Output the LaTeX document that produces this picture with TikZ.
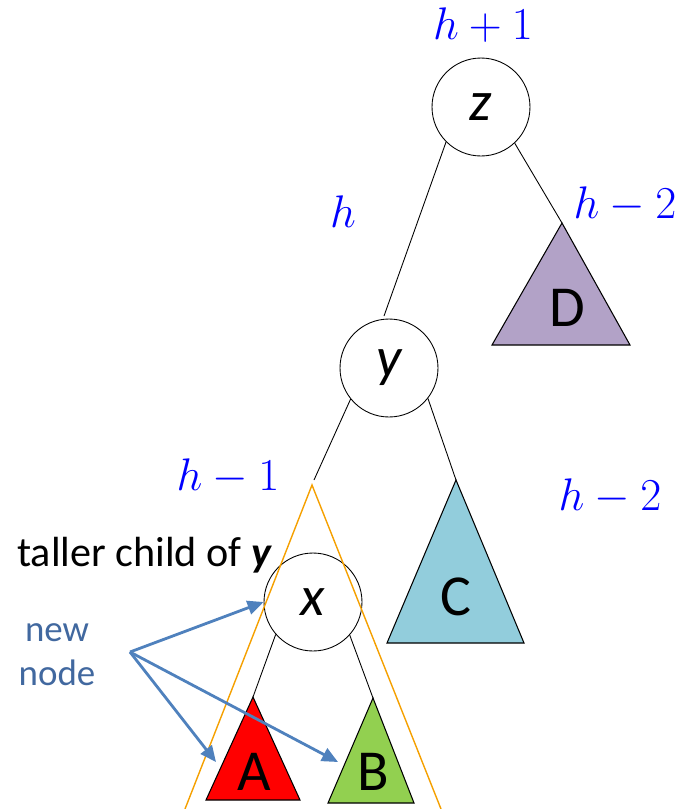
\RequirePackage{fix-cm}
\documentclass[tikz,border=0pt]{standalone}
\usepackage[no-math]{fontspec}
\setmainfont{Carlito}
\usetikzlibrary{arrows.meta}
\definecolor{hc}{HTML}{0000FF}
\definecolor{dc}{HTML}{B2A2C7}
\definecolor{cc}{HTML}{92CDDC}
\definecolor{ac}{HTML}{FF0000}
\definecolor{bc}{HTML}{92D050}
\definecolor{oc}{HTML}{F5A000}
\definecolor{nc}{HTML}{4F81BD}
\definecolor{ntc}{HTML}{41689F}

\begin{document}
\begin{tikzpicture}[
    x=0.02cm, y=-0.02cm,
    tn/.style={draw, circle, minimum size=1.96cm, inner sep=0pt, line width=0.5pt,
               font=\fontsize{32}{36}\selectfont\itshape},
    hl/.style={text=hc, font=\fontsize{26}{30}\selectfont},
    sub/.style={draw, line width=0.6pt},
    tl/.style={font=\fontsize{33}{38}\selectfont},
    ed/.style={line width=0.5pt},
    ar/.style={-{Triangle[length=3.2mm,width=2.8mm]}, line width=1.6pt, draw=nc}
]
\useasboundingbox (0,0) rectangle (682,809);

% tree nodes
\node[tn] (z) at (481,107) {z};
\node[tn] (y) at (389,368) {y};
\node[tn] (x) at (313,602) {x};

% subtrees
\coordinate (D) at (562,223);
\coordinate (C) at (456,480);
\coordinate (A) at (253,697);
\coordinate (B) at (373,698);
\coordinate (T) at (312,485);
\draw[sub, fill=dc] (D) -- ++(-70,122) -- ++(138,0) -- cycle;
\draw[sub, fill=cc] (C) -- ++(-69,163) -- ++(137,0) -- cycle;
\draw[sub, fill=ac] (A) -- ++(-47,103) -- ++(94,0) -- cycle;
\draw[sub, fill=bc] (B) -- ++(-45,105) -- ++(86,0) -- cycle;
\node[tl] (Dl) at (567,308) {D};
\node[tl] (Cl) at (456,597) {C};
\node[tl] (Al) at (254,772) {A};
\node[tl] (Bl) at (373,772) {B};

% subtree of x
\draw[oc, line width=0.8pt] (185,809) -- (T) -- (441,809);

% edges
\draw[ed] (z.225) -- (384,316);
\draw[ed] (z.313) -- (D);
\draw[ed] (y.219) -- (314,480);
\draw[ed] (y.322) -- (C);
\draw[ed] (x.221) -- (A);
\draw[ed] (x.318) -- (B);

% heights
\node[hl] (hz) at (483,25)  {\(h+1\)};
\node[hl] (hy) at (343,212) {\(h\)};
\node[hl] (hd) at (625,205) {\(h-2\)};
\node[hl] (hx) at (228,477) {\(h-1\)};
\node[hl] (hc) at (610,497) {\(h-2\)};

\node[anchor=west, inner sep=0pt, font=\fontsize{24}{28}\selectfont] (tc) at (17,555)
     {taller child of \textbf{\textit{y}}};
\node[align=center, text=ntc, font=\fontsize{21}{25}\selectfont] (nn) at (57,655) {new\\node};

\coordinate (fan) at (130,652);
\draw[ar] (fan) -- (x.west);
\draw[ar] (fan) -- (216,762);
\draw[ar] (fan) -- (338,762);
\end{tikzpicture}
\end{document}
